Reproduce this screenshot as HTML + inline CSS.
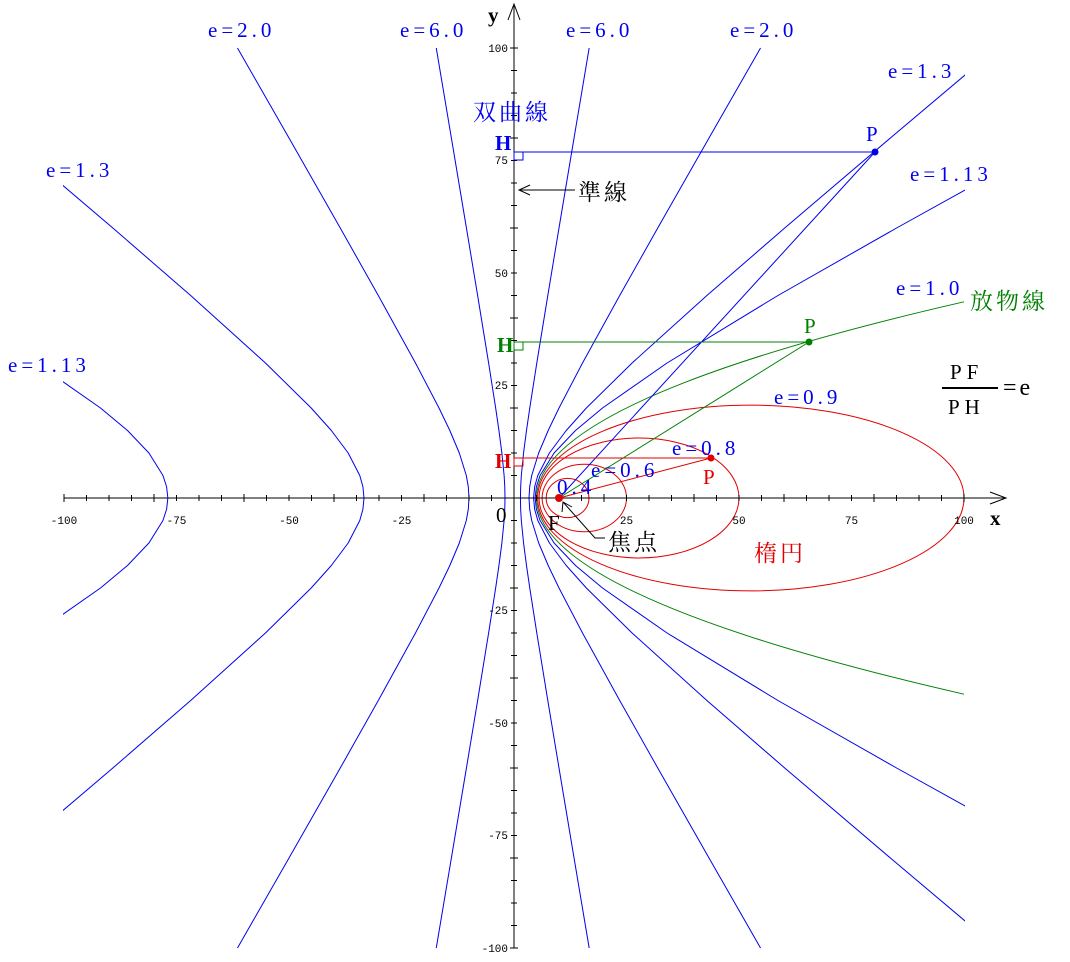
<!DOCTYPE html>
<html><head><meta charset="utf-8">
<style>
body{margin:0;background:#fff;}
svg{display:block;}
text{font-family:"Liberation Serif","Noto Serif CJK SC",serif;}
.b{fill:#0000ee;font-size:21px;letter-spacing:4px;}
.g{fill:#008000;font-size:21px;letter-spacing:4px;}
.r{fill:#e00000;font-size:21px;letter-spacing:4px;}
.k{fill:#000;font-size:21px;}
.j{font-size:23px;letter-spacing:3px;}
.t{font-family:"Liberation Mono",monospace;font-size:11px;fill:#000;letter-spacing:0;}
</style></head>
<body>
<svg width="1070" height="962" viewBox="0 0 1070 962" xmlns="http://www.w3.org/2000/svg">
<defs>
<clipPath id="c"><rect x="63" y="47" width="902" height="902"/></clipPath>
<g id="half" fill="none" stroke-width="1" stroke-linejoin="round">
<polyline stroke="#0000ee" points="589.17,48 574.05,138 559,228 547.8,295.5 536.8,363 529.77,408 526.49,430.5 523.55,453 521.32,475.5 520.66,486.75 520.43,498"/>
<polyline stroke="#0000ee" points="436.26,48 451.38,138 466.43,228 477.63,295.5 488.62,363 495.66,408 498.94,430.5 501.88,453 504.11,475.5 504.77,486.75 505,498"/>
<polyline stroke="#0000ee" points="760.54,48 709.01,138 657.75,228 619.71,295.5 582.52,363 559,408 548.19,430.5 538.69,453 531.69,475.5 529.7,486.75 529,498"/>
<polyline stroke="#0000ee" points="237.48,48 289,138 340.26,228 378.29,295.5 415.48,363 439,408 449.82,430.5 459.31,453 466.31,475.5 468.3,486.75 469,498"/>
<polyline stroke="#0000ee" points="997.12,48 890.38,138 784.72,228 706.9,295.5 632.1,363 586.36,408 566.23,430.5 549.4,453 537.79,475.5 534.64,486.75 533.57,498"/>
<polyline stroke="#0000ee" points="7.17,138 112.84,228 190.67,295.5 265.46,363 311.2,408 331.34,430.5 348.17,453 359.78,475.5 362.92,486.75 364,498"/>
<polyline stroke="#0000ee" points="977.77,183 896.59,228 777.97,295.5 667.05,363 602.52,408 575.5,430.5 554.1,453 540.06,475.5 536.39,486.75 535.15,498"/>
<polyline stroke="#0000ee" points="36.1,363 100.5,408 127.5,430.5 148.92,453 162.96,475.5 166.6,486.75 167.86,498"/>
</g>
</defs>
<g clip-path="url(#c)">
<use href="#half"/>
<use href="#half" transform="translate(0,996) scale(1,-1)"/>
<path d="M964 301.8 Q109 498 964 694.2" fill="none" stroke="#008000"/>
<g fill="none" stroke="#e00000">
<ellipse cx="567.57" cy="498" rx="21.43" ry="19.64"/>
<ellipse cx="584.31" cy="498" rx="42.19" ry="33.75"/>
<ellipse cx="639" cy="498" rx="100" ry="60"/>
<ellipse cx="750.8" cy="498" rx="213.2" ry="92.9"/>
</g>
</g>
<line x1="64" y1="498" x2="1004" y2="498" stroke="#000"/>
<path d="M990 492 L1006 498 L990 504" fill="none" stroke="#000"/>
<line x1="514" y1="948" x2="514" y2="6" stroke="#000"/>
<path d="M508 20 L514 4 L520 20" fill="none" stroke="#000"/>
<g stroke="#000">
<path d="M64 494V502M86.5 495V501M109 495V501M131.5 495V501M154 494V502M176.5 495V501M199 495V501M221.5 495V501M244 494V502M266.5 495V501M289 495V501M311.5 495V501M334 494V502M356.5 495V501M379 495V501M401.5 495V501M424 494V502M446.5 495V501M469 495V501M491.5 495V501M536.5 495V501M559 495V501M581.5 495V501M604 494V502M626.5 495V501M649 495V501M671.5 495V501M694 494V502M716.5 495V501M739 495V501M761.5 495V501M784 494V502M806.5 495V501M829 495V501M851.5 495V501M874 494V502M896.5 495V501M919 495V501M941.5 495V501M964 494V502"/>
<path d="M510 48H518M511 70.5H517M511 93H517M511 115.5H517M510 138H518M511 160.5H517M511 183H517M511 205.5H517M510 228H518M511 250.5H517M511 273H517M511 295.5H517M510 318H518M511 340.5H517M511 363H517M511 385.5H517M510 408H518M511 430.5H517M511 453H517M511 475.5H517M511 520.5H517M511 543H517M511 565.5H517M510 588H518M511 610.5H517M511 633H517M511 655.5H517M510 678H518M511 700.5H517M511 723H517M511 745.5H517M510 768H518M511 790.5H517M511 813H517M511 835.5H517M510 858H518M511 880.5H517M511 903H517M511 925.5H517M510 948H518"/>
</g>
<g text-anchor="middle">
<text x="64" y="524" class="t">-100</text><text x="176.5" y="524" class="t">-75</text><text x="289" y="524" class="t">-50</text><text x="401.5" y="524" class="t">-25</text><text x="626.5" y="524" class="t">25</text><text x="739" y="524" class="t">50</text><text x="851.5" y="524" class="t">75</text><text x="964" y="524" class="t">100</text>
</g>
<g text-anchor="end">
<text x="508" y="52" class="t">100</text><text x="508" y="164" class="t">75</text><text x="508" y="277" class="t">50</text><text x="508" y="389" class="t">25</text><text x="508" y="614" class="t">-25</text><text x="508" y="727" class="t">-50</text><text x="508" y="839" class="t">-75</text><text x="508" y="952" class="t">-100</text>
</g>
<text x="990" y="525" class="k" font-weight="bold">x</text>
<text x="488" y="22" class="k" font-weight="bold">y</text>
<text x="496" y="522" class="k">0</text>
<line x1="514" y1="152" x2="875" y2="152" stroke="#0000ee"/>
<line x1="875" y1="152" x2="559" y2="498" stroke="#0000ee"/>
<rect x="514" y="152" width="9" height="8" fill="none" stroke="#0000ee"/>
<line x1="514" y1="342" x2="809" y2="342" stroke="#008000"/>
<line x1="809" y1="342" x2="559" y2="498" stroke="#008000"/>
<rect x="514" y="342" width="9" height="8" fill="none" stroke="#008000"/>
<line x1="514" y1="458" x2="711" y2="458" stroke="#e00000"/>
<line x1="711" y1="458" x2="559" y2="498" stroke="#e00000"/>
<rect x="514" y="458" width="9" height="8" fill="none" stroke="#e00000"/>
<circle cx="875" cy="152" r="3.5" fill="#0000ee"/>
<circle cx="809" cy="342" r="3.5" fill="#008000"/>
<circle cx="711" cy="458" r="3.5" fill="#e00000"/>
<circle cx="559" cy="498" r="4" fill="#e00000"/>
<line x1="519" y1="190" x2="575" y2="190" stroke="#000"/>
<path d="M530 185 L519 190 L530 195" fill="none" stroke="#000"/>
<path d="M563 502 L595 538 L605 538" fill="none" stroke="#000"/>
<path d="M562 512 L563 502 L572 507" fill="none" stroke="#000"/>
<text x="208" y="37" class="b">e=2.0</text>
<text x="400" y="37" class="b">e=6.0</text>
<text x="566" y="37" class="b">e=6.0</text>
<text x="730" y="37" class="b">e=2.0</text>
<text x="888" y="78" class="b">e=1.3</text>
<text x="910" y="181" class="b">e=1.13</text>
<text x="46" y="177" class="b">e=1.3</text>
<text x="8" y="372" class="b">e=1.13</text>
<text x="896" y="295" class="b">e=1.0</text>
<text x="970" y="309" class="g j">放物線</text>
<text x="473" y="120" class="b j">双曲線</text>
<text x="774" y="404" class="b">e=0.9</text>
<text x="672" y="455" class="b">e=0.8</text>
<text x="591" y="477" class="b">e=0.6</text>
<text x="557" y="494" class="b">0.4</text>
<text x="754" y="561" class="r j">楕円</text>
<text x="578" y="200" class="k j">準線</text>
<text x="608" y="550" class="k j">焦点</text>
<text x="548" y="530" class="k">F</text>
<text x="495" y="150" class="b" font-weight="bold">H</text>
<text x="497" y="352" class="g" font-weight="bold">H</text>
<text x="495" y="468" class="r" font-weight="bold">H</text>
<text x="866" y="141" class="b">P</text>
<text x="804" y="333" class="g">P</text>
<text x="703" y="484" class="r">P</text>
<text x="950" y="379" class="k" style="letter-spacing:5px">PF</text>
<line x1="942" y1="388" x2="998" y2="388" stroke="#000" stroke-width="2"/>
<text x="948" y="414" class="k" style="letter-spacing:5px">PH</text>
<text x="1003" y="395" class="k" style="font-size:24px;letter-spacing:3px">=e</text>
</svg>
</body></html>
